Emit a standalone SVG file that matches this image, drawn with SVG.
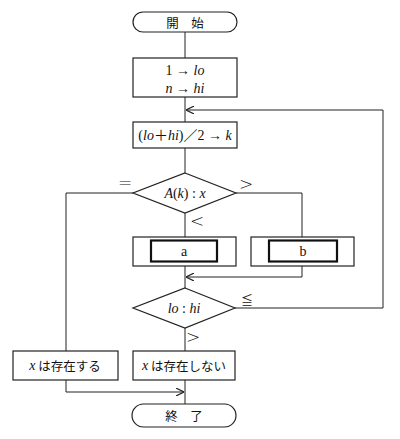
<svg xmlns="http://www.w3.org/2000/svg" width="400" height="439" viewBox="0 0 400 439">
<style>
.s{fill:#fff;stroke:#222;stroke-width:1.2}
.thick{fill:#fff;stroke:#111;stroke-width:2.2}
.c{fill:none;stroke:#222;stroke-width:1}
.t{font-family:"Liberation Serif","Noto Sans CJK JP",serif;font-size:14px;fill:#111;text-anchor:middle;dominant-baseline:central}
.i{font-style:italic}
.j{font-family:"Noto Sans CJK JP","Liberation Serif",sans-serif;font-size:12.5px}
.lab{font-family:"DejaVu Sans","Noto Sans CJK JP",sans-serif;font-weight:200;font-size:17px;fill:#111;text-anchor:middle;dominant-baseline:central}
.le{font-family:"Noto Sans CJK JP",sans-serif;font-size:12px;fill:#111;text-anchor:middle;dominant-baseline:central}
</style>
<defs>
<marker id="ah" viewBox="0 0 10 10" refX="10" refY="5" markerWidth="8" markerHeight="8" orient="auto" markerUnits="userSpaceOnUse">
<polyline points="0,0 10,5 0,10" fill="none" stroke="#222" stroke-width="1.4"/>
</marker>
</defs>
<g id="connectors">
<line class="c" x1="185" y1="32" x2="185" y2="58"/>
<line class="c" x1="185" y1="97" x2="185" y2="122"/>
<line class="c" x1="185" y1="148" x2="185" y2="173"/>
<polyline class="c" points="133,193 66,193 66,351"/>
<polyline class="c" points="236,193 302,193 302,237"/>
<line class="c" x1="185" y1="213" x2="185" y2="237"/>
<polyline class="c" points="302,266 302,277 186,277" marker-end="url(#ah)"/>
<line class="c" x1="185" y1="266" x2="185" y2="288"/>
<polyline class="c" points="235,308 383,308 383,110 186,110" marker-end="url(#ah)"/>
<line class="c" x1="185" y1="328" x2="185" y2="351"/>
<polyline class="c" points="66,380 66,392 184,392" marker-end="url(#ah)"/>
<line class="c" x1="185" y1="380" x2="185" y2="404"/>
<text class="lab" x="125" y="183">=</text>
<text class="lab" x="246" y="184">&gt;</text>
<text class="lab" x="197" y="221">&lt;</text>
<text class="le" x="247" y="299">≦</text>
<text class="lab" x="193" y="337">&gt;</text>
</g>
<g id="start">
<rect class="s" x="133" y="12" width="104" height="20" rx="10"/>
<text class="t j" x="185" y="22">開　始</text>
</g>
<g id="init">
<rect class="s" x="133" y="58" width="104" height="39"/>
<text class="t" x="185" y="70">1 → <tspan class="i">lo</tspan></text>
<text class="t" x="185" y="88"><tspan class="i">n</tspan> → <tspan class="i">hi</tspan></text>
</g>
<g id="mid">
<rect class="s" x="133" y="122" width="104" height="26"/>
<text class="t" x="185" y="135">(<tspan class="i">lo</tspan>＋<tspan class="i">hi</tspan>)／2 → <tspan class="i">k</tspan></text>
</g>
<g id="cmp">
<polygon class="s" points="185,173 236,193 185,213 133,193"/>
<text class="t" x="185" y="193"><tspan class="i">A</tspan>(<tspan class="i">k</tspan>) : <tspan class="i">x</tspan></text>
</g>
<g id="boxa">
<rect class="s" x="133" y="237" width="103" height="29"/>
<rect class="thick" x="151" y="240.5" width="66" height="21"/>
<text class="t" x="184" y="251">a</text>
</g>
<g id="boxb">
<rect class="s" x="251" y="237" width="103" height="29"/>
<rect class="thick" x="269" y="240.5" width="68" height="21"/>
<text class="t" x="303" y="251">b</text>
</g>
<g id="loop">
<polygon class="s" points="185,288 235,308 185,328 133,308"/>
<text class="t" x="184" y="308"><tspan class="i">lo</tspan> : <tspan class="i">hi</tspan></text>
</g>
<g id="found">
<rect class="s" x="13" y="351" width="105" height="29"/>
<text class="t" x="65" y="365"><tspan class="i">x</tspan><tspan class="j"> は存在する</tspan></text>
</g>
<g id="notfound">
<rect class="s" x="133" y="351" width="102" height="29"/>
<text class="t" x="184" y="365"><tspan class="i">x</tspan><tspan class="j"> は存在しない</tspan></text>
</g>
<g id="end">
<rect class="s" x="132" y="404" width="104" height="23" rx="11.5"/>
<text class="t j" x="184" y="415.5">終　了</text>
</g>
</svg>
